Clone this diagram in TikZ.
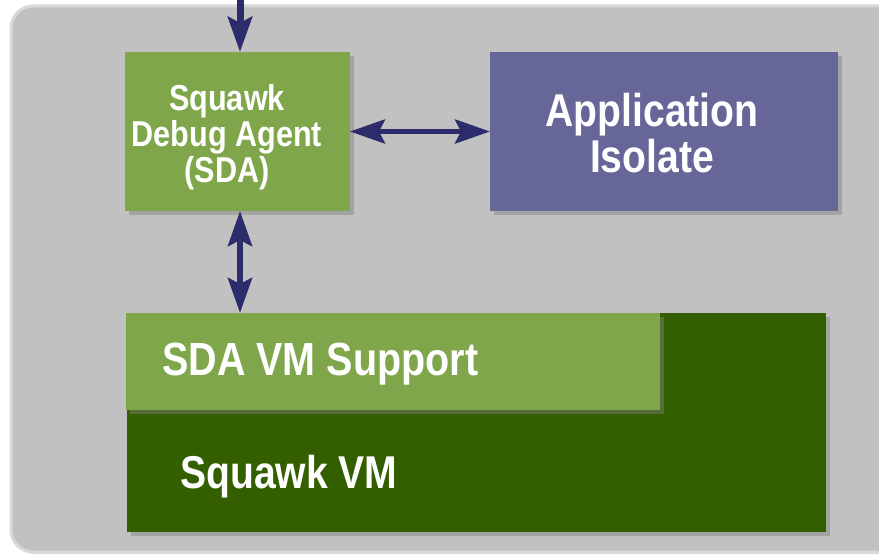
\documentclass[tikz,border=0pt]{standalone}
\usepackage{fontspec}
\setmainfont{Liberation Sans}
\newfontfamily\boxfont[FakeStretch=0.85]{Liberation Sans}
\usepackage{tikz}
\usetikzlibrary{positioning,arrows.meta,shadows}
\definecolor{panel1}{HTML}{C1C1C1}
\definecolor{rim1}{HTML}{D9D9D9}
\definecolor{green1}{HTML}{7FA64A}
\definecolor{green2}{HTML}{345F00}
\definecolor{purple1}{HTML}{666699}
\definecolor{navy1}{HTML}{2C2C6C}

\begin{document}
\begin{tikzpicture}[
    x=1pt, y=-1pt,
    box/.style={inner sep=0pt, outer sep=0pt, anchor=north west,
                drop shadow={shadow xshift=4pt, shadow yshift=-4pt,
                             opacity=0.45}},
    lbl/.style={text=white, inner sep=0pt,
                font=\boxfont\bfseries\fontsize{#1}{#1}\selectfont},
    tip/.tip={Stealth[length=35pt, width=24pt, inset=6pt]},
    link/.style={draw=navy1, line width=5pt},
]
\useasboundingbox (0,0) rectangle (879,556);

% grey backdrop
\filldraw[fill=panel1, draw=rim1, line width=3pt, rounded corners=22pt,
          drop shadow={shadow xshift=2pt, shadow yshift=-2pt, opacity=0.3}]
    (11,6) rectangle (905,552);

% boxes
\node[box, fill=green1, minimum width=225pt, minimum height=159pt]
    (sda) at (125,52) {};
\node[box, fill=purple1, minimum width=348pt, minimum height=159pt]
    (app) at (490,52) {};
\node[box, fill=green2, minimum width=699pt, minimum height=219pt]
    (vm) at (127,313) {};
\node[box, fill=green1, minimum width=534pt, minimum height=97pt]
    (vmsup) at (126,313) {};

% labels
\node[lbl=36, align=center] (sdatxt) at (227,137)
    {\fontsize{36}{35}\selectfont Squawk\\Debug Agent\\(SDA)};
\node[lbl=46, align=center] (apptxt) at (652,133)
    {\fontsize{46}{46}\selectfont Application\\Isolate};
\node[lbl=46.5, anchor=base west] (vmsuptxt) at (162,375) {SDA VM Support};
\node[lbl=46, anchor=base west] (vmtxt) at (180,488) {Squawk VM};

% connectors
\coordinate (feed) at (240,-10);
\draw[link, line width=7pt, -tip] (feed) -- (feed |- sda.north);
\draw[link, tip-tip] (sda.east) -- (app.west);
\draw[link, line width=6pt, tip-tip]
    (sda.south -| feed) -- (vmsup.north -| feed);
\end{tikzpicture}
\end{document}
